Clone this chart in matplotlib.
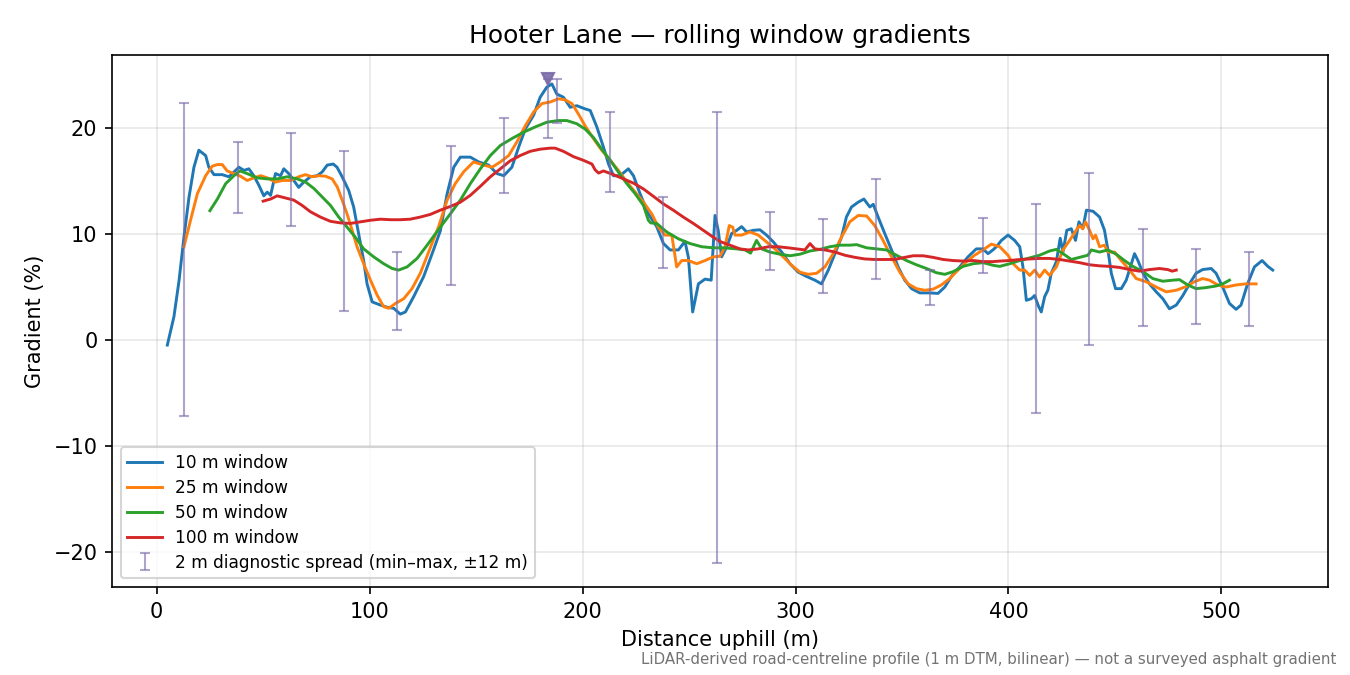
import numpy as np
import matplotlib
matplotlib.use('Agg')
import matplotlib.pyplot as plt

# Rolling window gradients (%).
dist_10 = [5.0, 8.1, 10.5, 12.8, 15.2, 17.5, 19.8, 23.0, 24.5, 26.9, 30.8, 33.9,
           36.3, 38.6, 41.0, 43.3, 45.6, 48.0, 50.3, 51.9, 53.5, 55.8, 58.2, 59.7,
           62.0, 64.4, 66.7, 69.1, 72.2, 75.4, 77.7, 80.1, 82.9, 84.7, 87.1, 90.2,
           92.5, 94.9, 97.2, 98.8, 101.2, 105.1, 108.2, 111.3, 114.4, 116.8, 120.7,
           125.4, 130.0, 133.2, 136.4, 139.5, 142.6, 147.3, 151.2, 155.9, 159.8,
           163.0, 166.8, 170.0, 173.1, 177.0, 180.1, 183.2, 185.6, 187.9, 191.0,
           194.2, 197.3, 201.2, 203.6, 206.7, 209.8, 212.2, 214.5, 217.6, 221.5,
           223.9, 227.0, 230.9, 234.8, 238.0, 241.1, 245.0, 248.1, 249.7, 251.7,
           254.4, 257.5, 260.4, 262.2, 263.7, 265.3, 267.7, 270.0, 272.4, 274.7,
           277.0, 280.2, 283.3, 286.4, 289.6, 293.5, 297.4, 301.3, 305.2, 309.1,
           312.2, 315.4, 318.5, 321.6, 323.9, 326.3, 329.4, 332.1, 334.9, 336.5,
           338.8, 341.9, 345.1, 348.2, 351.3, 354.5, 358.3, 363.0, 366.9, 370.1,
           373.2, 377.1, 381.0, 384.9, 388.0, 390.4, 392.7, 394.3, 396.7, 399.8,
           402.9, 405.3, 406.8, 408.4, 410.7, 412.3, 413.9, 415.4, 417.0, 418.5,
           420.1, 422.5, 424.3, 425.6, 427.4, 429.5, 431.5, 433.1, 434.9, 436.6,
           439.7, 442.8, 445.1, 446.7, 448.3, 450.3, 453.0, 455.3, 457.7, 459.2,
           460.8, 463.2, 466.2, 469.4, 472.5, 475.6, 478.8, 481.9, 485.0, 488.1,
           491.2, 495.2, 497.5, 500.6, 503.8, 506.9, 509.2, 512.3, 515.5, 519.1,
           521.8, 524.1]
grad_10 = [-0.47, 2.2, 5.6, 9.7, 13.5, 16.3, 17.9, 17.4, 16.3, 15.6, 15.6, 15.4,
           15.85, 16.3, 16.0, 16.15, 15.5, 14.6, 13.6, 13.95, 13.65, 15.7, 15.5,
           16.15, 15.7, 15.05, 14.4, 14.9, 15.4, 15.5, 15.85, 16.5, 16.6, 16.3,
           15.4, 14.1, 12.55, 10.0, 7.5, 5.3, 3.6, 3.3, 3.1, 3.0, 2.45, 2.65, 4.1,
           6.0, 8.5, 10.3, 13.8, 16.3, 17.25, 17.25, 16.8, 16.5, 15.7, 15.5, 16.3,
           18.2, 19.9, 21.2, 22.9, 23.85, 24.15, 23.2, 22.9, 21.95, 22.1, 21.8,
           21.65, 20.1, 18.2, 16.6, 15.5, 15.5, 16.15, 15.5, 13.8, 11.9, 10.7, 9.1,
           8.5, 8.5, 9.3, 7.8, 2.65, 5.3, 5.75, 5.65, 11.75, 10.35, 7.85, 8.8,
           10.05, 10.35, 10.7, 10.2, 10.35, 10.4, 9.9, 9.25, 8.3, 7.2, 6.4, 6.0,
           5.65, 5.3, 6.6, 8.15, 9.7, 11.6, 12.55, 13.0, 13.3, 12.55, 12.8, 11.6,
           10.05, 8.5, 6.9, 5.65, 4.85, 4.45, 4.45, 4.4, 5.0, 6.0, 6.9, 7.85, 8.6,
           8.6, 8.15, 8.5, 8.8, 9.4, 9.9, 9.4, 8.8, 6.9, 3.75, 3.9, 4.2, 3.3, 2.65,
           4.1, 4.7, 6.3, 7.4, 9.6, 8.3, 10.35, 10.5, 9.4, 11.15, 10.5, 12.25,
           12.15, 11.6, 10.35, 8.5, 6.3, 4.85, 4.85, 5.65, 7.2, 8.15, 7.5, 6.3,
           5.3, 4.55, 3.9, 2.95, 3.3, 4.2, 5.3, 6.3, 6.65, 6.75, 6.3, 5.0, 3.45,
           2.9, 3.3, 5.3, 6.9, 7.5, 6.95, 6.6]

dist_25 = [12.8, 15.9, 19.1, 23.0, 26.1, 28.5, 30.8, 33.1, 36.2, 39.4, 42.5, 45.6,
           48.8, 51.9, 55.8, 58.9, 62.9, 66.7, 69.9, 73.0, 76.1, 79.3, 82.4, 84.8,
           87.1, 89.4, 91.8, 94.1, 97.2, 100.4, 103.5, 106.6, 109.0, 112.1, 116.0,
           119.9, 123.8, 127.7, 132.4, 136.4, 140.2, 144.1, 148.8, 153.5, 157.5,
           161.4, 165.3, 169.2, 173.1, 177.0, 180.9, 184.8, 188.7, 191.8, 195.0,
           198.1, 201.2, 205.1, 209.0, 213.0, 216.8, 220.8, 224.7, 228.6, 232.5,
           235.6, 238.7, 241.9, 244.2, 246.6, 249.7, 253.6, 257.5, 261.4, 264.5,
           266.9, 268.9, 270.5, 271.6, 274.7, 278.6, 282.5, 286.4, 290.3, 294.2,
           298.2, 302.1, 306.0, 309.9, 313.8, 317.7, 321.6, 325.5, 329.4, 333.4,
           337.2, 341.1, 345.1, 349.0, 352.9, 356.8, 360.7, 364.6, 368.5, 372.4,
           376.3, 380.3, 384.1, 388.0, 392.0, 395.9, 399.8, 402.2, 405.3, 407.6,
           410.0, 412.3, 414.6, 417.0, 419.3, 422.5, 425.6, 428.7, 431.8, 433.4,
           434.9, 436.2, 438.1, 439.7, 440.9, 442.8, 445.1, 446.7, 449.8, 453.0,
           456.9, 460.0, 464.7, 469.4, 474.1, 478.8, 483.5, 487.3, 491.2, 494.4,
           498.3, 502.2, 506.9, 511.5, 516.3]
grad_25 = [8.8, 11.3, 13.8, 15.5, 16.4, 16.55, 16.55, 15.95, 15.7, 15.45, 15.05,
           15.3, 15.5, 15.3, 14.9, 15.05, 15.05, 15.4, 15.6, 15.4, 15.5, 15.45,
           15.2, 14.45, 13.2, 11.9, 10.35, 8.8, 7.2, 5.65, 4.25, 3.15, 3.0, 3.45,
           3.9, 4.85, 6.3, 8.3, 10.7, 13.2, 14.75, 15.85, 16.8, 16.5, 16.3, 16.8,
           17.4, 18.7, 20.2, 21.5, 22.3, 22.45, 22.75, 22.65, 22.3, 21.3, 20.2,
           19.0, 17.9, 16.95, 16.0, 14.9, 13.95, 13.0, 11.9, 10.65, 9.9, 9.9, 6.9,
           7.5, 7.5, 7.2, 7.5, 7.85, 7.9, 8.8, 10.8, 10.65, 9.9, 9.9, 10.2, 9.9,
           9.25, 8.6, 7.85, 7.05, 6.4, 6.2, 6.3, 6.9, 8.15, 9.7, 11.15, 11.75,
           11.7, 10.8, 9.4, 7.85, 6.4, 5.3, 4.85, 4.7, 4.8, 5.2, 5.8, 6.6, 7.4,
           8.0, 8.5, 9.05, 8.8, 8.0, 7.2, 6.6, 6.6, 6.1, 6.6, 5.95, 6.6, 6.1, 6.9,
           8.5, 9.4, 10.35, 10.8, 10.5, 11.15, 10.35, 9.55, 9.9, 8.8, 8.95, 8.3,
           8.3, 7.5, 6.6, 5.8, 5.5, 5.0, 4.55, 4.7, 5.05, 5.5, 5.8, 5.65, 5.2,
           5.0, 5.2, 5.3, 5.3]

dist_50 = [25.0, 28.5, 32.4, 36.3, 39.1, 42.5, 47.2, 51.9, 56.6, 61.3, 66.0, 69.9,
           73.8, 77.7, 81.6, 85.5, 89.4, 93.3, 97.2, 101.9, 106.6, 110.6, 113.6,
           117.6, 122.3, 127.0, 133.2, 137.9, 142.6, 147.3, 152.0, 156.7, 161.4,
           166.8, 172.3, 177.8, 183.3, 188.7, 192.6, 197.3, 201.2, 205.1, 209.0,
           213.0, 216.8, 220.8, 224.7, 228.6, 230.9, 232.0, 234.8, 239.5, 245.0,
           250.5, 256.0, 261.4, 266.1, 272.4, 276.3, 278.9, 281.7, 284.1, 288.0,
           292.7, 297.4, 302.1, 306.8, 311.4, 316.1, 320.8, 325.5, 328.7, 333.4,
           338.0, 342.7, 347.4, 352.1, 356.8, 361.5, 366.2, 370.1, 374.0, 378.7,
           383.4, 388.1, 392.8, 395.9, 400.6, 405.3, 410.0, 414.6, 419.3, 422.5,
           425.6, 429.5, 433.4, 437.3, 438.9, 442.8, 446.7, 450.6, 454.5, 458.4,
           463.2, 467.8, 472.5, 477.2, 480.3, 484.2, 488.1, 492.8, 497.5, 500.6,
           503.8]
grad_50 = [12.2, 13.3, 14.75, 15.5, 15.95, 15.7, 15.3, 15.2, 15.2, 15.4, 15.2,
           14.9, 14.3, 13.5, 12.7, 11.6, 10.65, 9.7, 8.6, 7.85, 7.2, 6.75, 6.6,
           6.9, 7.7, 8.95, 10.65, 11.9, 13.2, 14.75, 16.15, 17.4, 18.35, 19.0,
           19.6, 20.1, 20.55, 20.7, 20.7, 20.4, 19.9, 19.1, 18.0, 16.95, 15.85,
           14.75, 13.8, 12.7, 11.3, 11.05, 11.0, 10.2, 9.55, 9.1, 8.8, 8.7, 8.7,
           8.6, 8.5, 8.2, 9.4, 8.6, 8.3, 8.1, 7.95, 8.1, 8.4, 8.55, 8.8, 8.95,
           8.95, 9.0, 8.7, 8.6, 8.5, 8.0, 7.5, 7.1, 6.75, 6.35, 6.2, 6.45, 6.95,
           7.2, 7.3, 7.05, 6.95, 7.2, 7.5, 7.75, 8.0, 8.4, 8.55, 8.15, 7.6, 7.8,
           8.0, 8.5, 8.3, 8.5, 8.1, 7.5, 6.95, 6.45, 5.8, 5.55, 5.65, 5.7, 5.2,
           4.85, 4.95, 5.1, 5.3, 5.65]

dist_100 = [50.0, 53.5, 56.6, 60.5, 64.4, 68.3, 72.2, 76.9, 81.6, 86.3, 91.0, 95.7,
            100.4, 105.1, 109.8, 114.4, 119.1, 123.8, 128.5, 133.2, 137.9, 142.6,
            147.3, 152.0, 156.7, 161.4, 166.0, 170.7, 175.4, 180.1, 184.8, 187.1,
            191.0, 195.7, 200.4, 204.4, 205.9, 207.5, 209.8, 214.5, 219.2, 223.9,
            228.6, 233.3, 237.9, 242.6, 247.3, 252.0, 256.7, 261.4, 264.5, 269.2,
            273.9, 277.8, 282.5, 287.2, 291.9, 296.6, 300.5, 304.4, 306.8, 309.1,
            313.8, 318.5, 323.2, 327.9, 332.6, 337.2, 341.9, 346.6, 351.3, 355.2,
            359.9, 364.6, 369.3, 374.0, 378.7, 383.4, 388.1, 392.8, 395.9, 400.6,
            405.3, 410.0, 414.6, 419.3, 424.0, 428.7, 433.4, 438.1, 442.8, 447.5,
            452.2, 456.9, 461.5, 466.2, 470.9, 474.8, 476.9, 478.8]
grad_100 = [13.1, 13.3, 13.6, 13.4, 13.2, 12.7, 12.1, 11.6, 11.2, 11.05, 11.0,
            11.15, 11.3, 11.4, 11.35, 11.35, 11.4, 11.6, 11.85, 12.25, 12.6, 13.0,
            13.65, 14.5, 15.4, 16.15, 16.9, 17.4, 17.8, 18.0, 18.1, 18.1, 17.8,
            17.3, 16.95, 16.6, 16.05, 15.75, 15.95, 15.6, 15.2, 14.8, 14.25, 13.55,
            12.85, 12.25, 11.6, 11.0, 10.35, 9.7, 9.3, 8.95, 8.6, 8.5, 8.6, 8.8,
            8.8, 8.7, 8.6, 8.5, 9.1, 8.6, 8.5, 8.3, 8.0, 7.8, 7.65, 7.6, 7.6, 7.6,
            7.8, 7.95, 7.95, 7.8, 7.6, 7.5, 7.45, 7.5, 7.4, 7.4, 7.45, 7.5, 7.6,
            7.65, 7.7, 7.7, 7.6, 7.45, 7.3, 7.1, 7.0, 6.95, 6.85, 6.65, 6.5, 6.65,
            6.75, 6.65, 6.5, 6.6]

# 2 m diagnostic spread (min / max within +-12 m).
spread_dist = [13, 38, 63, 88, 113, 138, 163, 183.7, 188, 213, 238, 263, 288,
               313, 338, 363, 388, 413, 438, 463, 488, 513]
spread_min = [-7.15, 12.0, 10.8, 2.7, 0.94, 5.2, 13.9, 19.1, 20.45, 14.0, 6.8,
              -21.0, 6.6, 4.4, 5.8, 3.3, 6.3, -6.9, -0.44, 1.35, 1.54, 1.35]
spread_max = [22.4, 18.7, 19.5, 17.8, 8.3, 18.3, 20.9, 24.6, 24.6, 21.55, 13.5,
              21.5, 12.1, 11.4, 15.2, 6.6, 11.5, 12.8, 15.8, 10.5, 8.56, 8.3]

# Steepest point marker.
peak_dist = 183.7
peak_grad = 24.6

series = [
    (dist_10, grad_10, '10 m window', 'C0'),
    (dist_25, grad_25, '25 m window', 'C1'),
    (dist_50, grad_50, '50 m window', 'C2'),
    (dist_100, grad_100, '100 m window', 'C3'),
]

fig, ax = plt.subplots(figsize=(9, 4.5), dpi=150)

for xs, ys, label, color in series:
    ax.plot(xs, ys, '-', color=color, lw=1.4, label=label)

lo = np.array(spread_min)
hi = np.array(spread_max)
mid = (lo + hi) / 2
ax.errorbar(spread_dist, mid, yerr=[mid - lo, hi - mid], fmt='none',
            ecolor='#7b6aa8', alpha=0.6, elinewidth=1.0, capsize=2.5,
            label='2 m diagnostic spread (min\u2013max, \u00b112 m)')
ax.plot([peak_dist], [peak_grad], 'v', color='#7b6aa8', alpha=0.9, ms=6)

ax.set_xlabel('Distance uphill (m)')
ax.set_ylabel('Gradient (%)')
ax.set_title('Hooter Lane \u2014 rolling window gradients')
ax.grid(True, alpha=0.3)
ax.legend(loc='lower left', fontsize=8.2, labelspacing=0.4)

fig.text(0.99, 0.012,
         'LiDAR-derived road-centreline profile (1 m DTM, bilinear) \u2014 '
         'not a surveyed asphalt gradient',
         ha='right', va='bottom', fontsize=7.2, color='0.45')

fig.subplots_adjust(left=0.083, right=0.9837, top=0.9185, bottom=0.1304)
fig.savefig('out.png', dpi=150)
